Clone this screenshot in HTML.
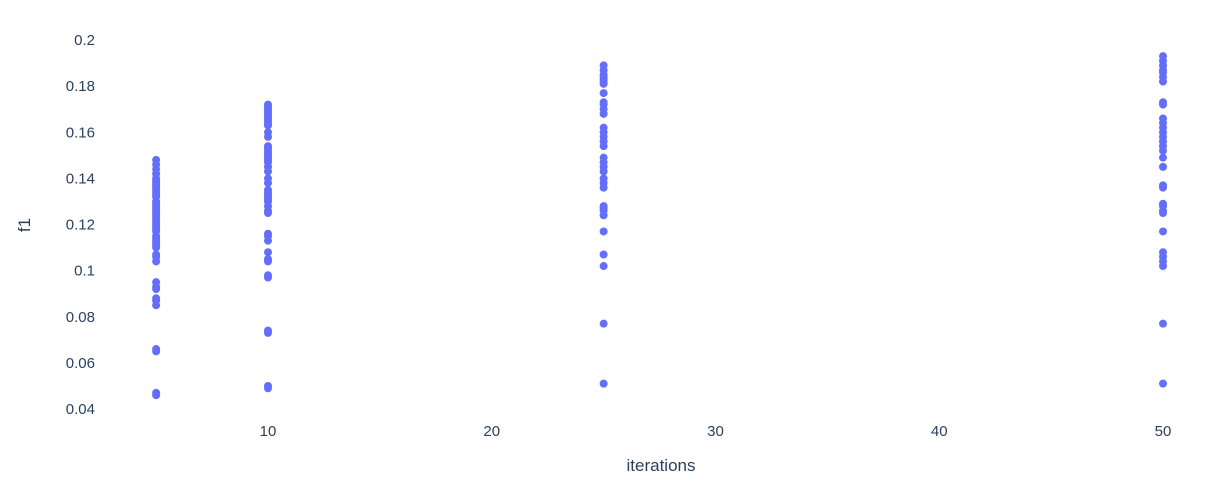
<!DOCTYPE html>
<html><head><meta charset="utf-8"><style>
html,body{margin:0;padding:0;background:#fff;}
svg{display:block;font-family:"Liberation Sans",sans-serif;}
</style></head><body>
<svg id="chart" width="1224" height="501">
<g id="yticks"></g>
<g id="xticks"></g>
<g id="points"></g>
<text x="661" y="471" font-size="17" fill="#2a3f5f" text-anchor="middle">iterations</text>
<text x="30" y="225" font-size="17" fill="#2a3f5f" text-anchor="middle" transform="rotate(-90 30 225)">f1</text>
</svg>
<script>
const yTickValues=[0.04,0.06,0.08,0.1,0.12,0.14,0.16,0.18,0.2];
const yTickLabels=["0.04","0.06","0.08","0.1","0.12","0.14","0.16","0.18","0.2"];
const xTickValues=[10,20,30,40,50];
const xTickLabels=["10","20","30","40","50"];
const iters5=[0.148,0.146,0.144,0.142,0.140,0.139,0.138,0.137,0.136,0.135,0.134,0.133,0.132,0.130,0.129,0.128,0.127,0.126,0.125,0.124,0.123,0.122,0.121,0.120,0.119,0.118,0.117,0.115,0.114,0.113,0.112,0.111,0.110,0.107,0.106,0.104,0.095,0.093,0.092,0.088,0.087,0.085,0.066,0.065,0.047,0.046];
const iters10=[0.172,0.171,0.170,0.169,0.168,0.167,0.166,0.165,0.164,0.163,0.160,0.158,0.154,0.153,0.152,0.151,0.150,0.149,0.148,0.147,0.145,0.143,0.140,0.138,0.135,0.134,0.133,0.132,0.131,0.130,0.128,0.126,0.125,0.116,0.115,0.113,0.108,0.105,0.104,0.098,0.097,0.074,0.073,0.050,0.049];
const iters25=[0.189,0.187,0.185,0.184,0.183,0.182,0.181,0.177,0.173,0.172,0.170,0.168,0.162,0.160,0.158,0.156,0.154,0.149,0.147,0.145,0.143,0.140,0.138,0.136,0.128,0.127,0.126,0.124,0.117,0.107,0.102,0.077,0.051];
const iters50=[0.193,0.191,0.189,0.187,0.186,0.184,0.182,0.173,0.172,0.166,0.164,0.162,0.160,0.158,0.156,0.154,0.152,0.149,0.145,0.137,0.136,0.129,0.128,0.126,0.125,0.117,0.108,0.106,0.104,0.102,0.077,0.051];
const seriesX=[5,10,25,50];
const seriesY=[iters5,iters10,iters25,iters50];
const NS="http://www.w3.org/2000/svg";
function xs(v){return 268+(v-10)*22.375;}
function ys(v){return 409-(v-0.04)*2306;}
const yg=document.getElementById('yticks');
yTickValues.forEach((v,i)=>{const t=document.createElementNS(NS,'text');
t.setAttribute('x',95);t.setAttribute('y',ys(v)+5);t.setAttribute('text-anchor','end');
t.setAttribute('font-size','15');t.setAttribute('fill','#2a3f5f');t.textContent=yTickLabels[i];


yg.appendChild(t);});
const xg=document.getElementById('xticks');
xTickValues.forEach((v,i)=>{const t=document.createElementNS(NS,'text');
t.setAttribute('x',xs(v));t.setAttribute('y',436);t.setAttribute('text-anchor','middle');
t.setAttribute('font-size','15');t.setAttribute('fill','#2a3f5f');t.textContent=xTickLabels[i];


xg.appendChild(t);});
const pg=document.getElementById('points');
seriesX.forEach((xv,si)=>{seriesY[si].forEach(yv=>{const c=document.createElementNS(NS,'circle');
c.setAttribute('cx',xs(xv));c.setAttribute('cy',ys(yv));c.setAttribute('r',4);c.setAttribute('fill','#636efa');


pg.appendChild(c);});});
</script>
</body></html>
